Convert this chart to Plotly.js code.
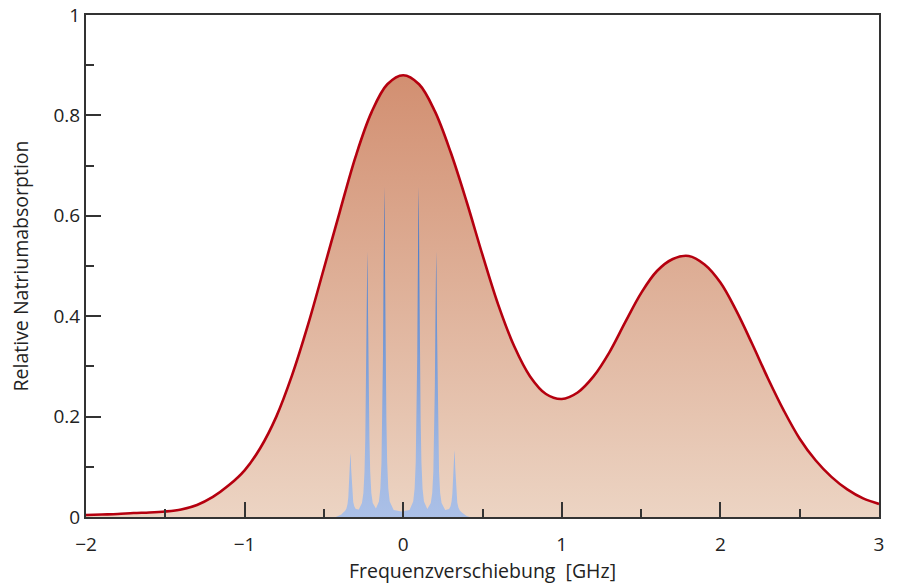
<!DOCTYPE html>
<html>
<head>
<meta charset="utf-8">
<script src="https://cdn.plot.ly/plotly-3.0.1.min.js"></script>
<style>html,body{margin:0;padding:0;background:#fff;}#chart{width:899px;height:585px;}</style>
</head>
<body>
<div id="chart"></div>
<script>
// Doppler-broadened sodium absorption (red curve)
const dopplerX = [-2.0,-1.9,-1.8,-1.7,-1.6,-1.5,-1.4,-1.3,-1.2,-1.1,-1.0,-0.9,-0.8,-0.7,-0.6,-0.5,-0.4,-0.3,-0.2,-0.1,
  0.0,0.1,0.2,0.3,0.4,0.5,0.6,0.7,0.8,0.9,1.0,1.1,1.2,1.3,1.4,1.5,1.6,1.7,1.8,1.9,2.0,2.1,2.2,2.3,2.4,2.5,2.6,2.7,2.8,2.9,3.0];
const dopplerY = [0.004,0.005,0.006,0.008,0.009,0.011,0.015,0.024,0.040,0.063,0.093,0.138,0.200,0.283,0.383,0.495,0.608,0.718,0.806,0.862,
  0.880,0.862,0.808,0.726,0.628,0.522,0.422,0.340,0.280,0.245,0.235,0.248,0.280,0.328,0.388,0.446,0.490,0.514,0.520,0.503,0.467,0.411,0.345,0.276,0.212,0.156,0.113,0.080,0.055,0.037,0.026];

// Hyperfine-resolved spectrum (blue spikes)
const hyperfineX = [-0.425,-0.405,-0.390,-0.378,
  -0.367,-0.358,-0.351,-0.346,-0.3415,-0.338,-0.335,-0.333,-0.331,-0.328,-0.3245,-0.320,-0.315,-0.308,-0.299,-0.280,
  -0.260,-0.251,-0.244,-0.239,-0.2345,-0.231,-0.228,-0.226,-0.224,-0.221,-0.2175,-0.213,-0.208,-0.201,-0.192,-0.172,
  -0.153,-0.144,-0.137,-0.132,-0.1275,-0.124,-0.121,-0.119,-0.117,-0.114,-0.1105,-0.106,-0.101,-0.094,-0.085,
  -0.060,-0.011,0.040,
  0.063,0.072,0.079,0.084,0.0885,0.092,0.095,0.097,0.099,0.102,0.1055,0.110,0.115,0.122,0.131,0.152,
  0.174,0.183,0.190,0.195,0.1995,0.203,0.206,0.208,0.210,0.213,0.2165,0.221,0.226,0.233,0.242,0.265,
  0.289,0.298,0.305,0.310,0.3145,0.318,0.321,0.323,0.325,0.328,0.3315,0.336,0.341,0.348,0.357,
  0.370,0.385,0.400,0.420];
const hyperfineY = [0,0.002,0.005,0.009,
  0.012,0.017,0.026,0.040,0.064,0.093,0.118,0.127,0.119,0.095,0.068,0.045,0.030,0.021,0.016,0.015,
  0.028,0.048,0.090,0.157,0.260,0.384,0.492,0.529,0.492,0.384,0.260,0.157,0.090,0.048,0.028,0.017,
  0.031,0.057,0.109,0.193,0.322,0.477,0.613,0.658,0.613,0.477,0.322,0.193,0.109,0.057,0.031,
  0.014,0.011,0.014,
  0.031,0.057,0.109,0.193,0.322,0.477,0.613,0.658,0.613,0.477,0.322,0.193,0.109,0.057,0.031,0.016,
  0.028,0.048,0.090,0.157,0.260,0.384,0.492,0.529,0.492,0.384,0.260,0.157,0.090,0.048,0.028,0.014,
  0.016,0.021,0.031,0.047,0.071,0.099,0.125,0.133,0.125,0.099,0.071,0.045,0.029,0.019,0.013,
  0.009,0.005,0.002,0];

const xTicks = [-2,-1,0,1,2,3];
const xTickText = ['\u22122','\u22121','0','1','2','3'];
const yTicks = [0,0.2,0.4,0.6,0.8,1];
const yTickText = ['0','0.2','0.4','0.6','0.8','1'];

const FONT = '"Open Sans", "Noto Sans", sans-serif';
const traces = [
  {
    x: dopplerX, y: dopplerY, type: 'scatter', mode: 'lines',
    line: {color: '#b5000f', width: 2.6, shape: 'spline', smoothing: 1.0},
    fill: 'tozeroy', fillcolor: '#e0b49c',
    fillgradient: {type: 'vertical', start: 0, stop: 0.88,
      colorscale: [[0, '#ecd4c3'], [1, '#d28f71']]},
    hoverinfo: 'skip', showlegend: false
  },
  {
    x: hyperfineX, y: hyperfineY, type: 'scatter', mode: 'lines',
    line: {color: 'rgba(0,0,0,0)', width: 0},
    fill: 'tozeroy', fillcolor: '#a9bee6',
    fillgradient: {type: 'vertical', start: 0, stop: 0.66,
      colorscale: [[0, '#abc0e7'], [0.2, '#9eb6e2'], [1, '#3a6fc3']]},
    hoverinfo: 'skip', showlegend: false
  }
];

const axisCommon = {
  showgrid: false, zeroline: false,
  showline: true, mirror: true, linecolor: '#333', linewidth: 2,
  ticks: 'inside', ticklen: 15, tickwidth: 2, tickcolor: '#333',
  tickfont: {family: FONT, size: 19, color: '#222'}
};

const layout = {
  width: 899, height: 585,
  margin: {l: 86, r: 20, t: 15, b: 68},
  paper_bgcolor: '#fff', plot_bgcolor: '#fff',
  showlegend: false,
  xaxis: Object.assign({}, axisCommon, {
    range: [-2, 3], tickmode: 'array', tickvals: xTicks, ticktext: xTickText,
    ticklabelstandoff: 9,
    minor: {dtick: 0.5, ticks: 'inside', ticklen: 8, tickwidth: 2, tickcolor: '#333', showgrid: false},
    title: {text: 'Frequenzverschiebung  [GHz]', font: {family: FONT, size: 19.5, color: '#222'}, standoff: 8}
  }),
  yaxis: Object.assign({}, axisCommon, {
    range: [0, 1], tickmode: 'array', tickvals: yTicks, ticktext: yTickText,
    minor: {dtick: 0.1, ticks: 'inside', ticklen: 8, tickwidth: 2, tickcolor: '#333', showgrid: false},
    title: {text: 'Relative Natriumabsorption', font: {family: FONT, size: 19.5, color: '#222'}, standoff: 20}
  })
};

Plotly.newPlot('chart', traces, layout, {displayModeBar: false, staticPlot: true});
</script>
</body>
</html>
